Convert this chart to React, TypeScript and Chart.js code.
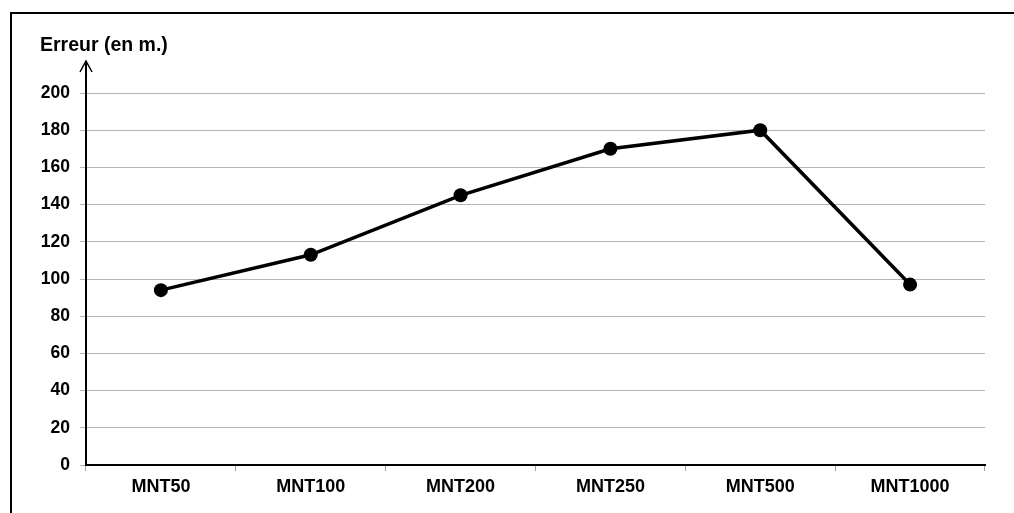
import React, { useEffect, useRef } from "react";
import { Chart, registerables } from "chart.js";

Chart.register(...registerables);

const categories = ["MNT50", "MNT100", "MNT200", "MNT250", "MNT500", "MNT1000"];
const erreurValues = [94, 113, 145, 170, 180, 97];
const yTitle = "Erreur (en m.)";
const yMin = 0;
const yMax = 200;
const yStep = 20;

const decorPlugin = {
  id: "decor",
  afterDraw(chart: any) {
    const ctx = chart.ctx;
    const area = chart.chartArea;
    ctx.save();
    // frame
    ctx.strokeStyle = "#000";
    ctx.lineWidth = 2;
    ctx.strokeRect(11, 13, 1100, 600);
    // y axis extension + arrow
    ctx.lineWidth = 2;
    ctx.beginPath();
    ctx.moveTo(area.left, area.top);
    ctx.lineTo(area.left, 61);
    ctx.stroke();
    ctx.lineWidth = 1.5;
    ctx.beginPath();
    ctx.moveTo(area.left - 6, 72);
    ctx.lineTo(area.left, 61);
    ctx.lineTo(area.left + 6, 72);
    ctx.stroke();
    // title
    ctx.fillStyle = "#000";
    ctx.font = "bold 19.5px 'Liberation Sans', Arial, sans-serif";
    ctx.textBaseline = "alphabetic";
    ctx.textAlign = "left";
    ctx.fillText(yTitle, 40, 51);
    ctx.restore();
  },
};

export default function App() {
  const ref = useRef<HTMLCanvasElement>(null);
  useEffect(() => {
    if (!ref.current) return;
    const chart = new Chart(ref.current, {
      type: "line",
      data: {
        labels: categories,
        datasets: [
          {
            data: erreurValues,
            borderColor: "#000",
            backgroundColor: "#000",
            borderWidth: 3.5,
            pointRadius: 7,
            pointBackgroundColor: "#000",
            pointBorderColor: "#000",
            pointBorderWidth: 0,
            tension: 0,
          },
        ],
      },
      options: {
        responsive: false,
        animation: false,
        devicePixelRatio: 1,
        layout: { padding: { left: 0, top: 93, right: 29, bottom: 0 } },
        plugins: { legend: { display: false }, tooltip: { enabled: false }, title: { display: false } },
        scales: {
          x: {
            offset: true,
            grid: {
              offset: true,
              drawOnChartArea: false,
              drawTicks: true,
              tickLength: 6,
              color: "#a0a0a0",
            },
            border: { color: "#000", width: 2 },
            ticks: {
              color: "#000",
              font: { family: "'Liberation Sans', Arial, sans-serif", size: 18, weight: "bold" },
              padding: 5,
              maxRotation: 0,
            },
            afterFit(scale: any) {
              scale.height = 48;
            },
          },
          y: {
            min: yMin,
            max: yMax,
            grid: { color: "#b4b4b4", lineWidth: 1, tickLength: 6, drawTicks: true },
            border: { color: "#000", width: 2 },
            ticks: {
              stepSize: yStep,
              color: "#000",
              padding: 10,
              font: { family: "'Liberation Sans', Arial, sans-serif", size: 17.5, weight: "bold" },
            },
            afterFit(scale: any) {
              scale.width = 86;
            },
          },
        },
      },
      plugins: [decorPlugin],
    } as any);
    return () => chart.destroy();
  }, []);
  return (
    <div style={{ position: "fixed", left: 0, top: 0, width: 1014, height: 513, background: "#fff" }}>
      <canvas ref={ref} width={1014} height={513} style={{ display: "block" }} />
    </div>
  );
}
